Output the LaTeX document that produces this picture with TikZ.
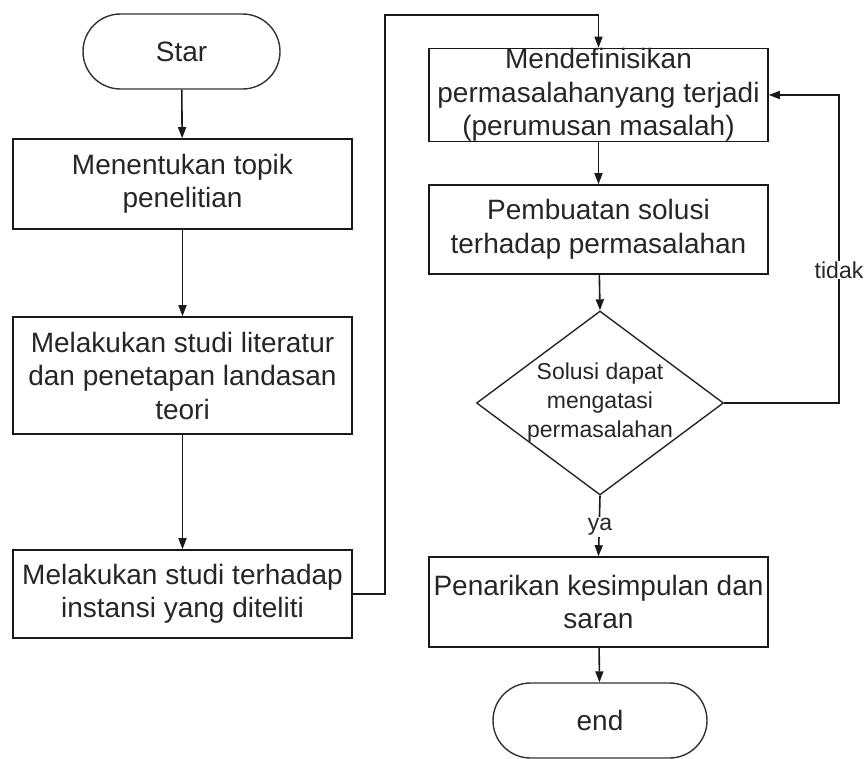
\documentclass[tikz,border=0pt]{standalone}
\usepackage{fontspec}
\setmainfont{Liberation Sans}
\usetikzlibrary{shapes.geometric,shapes.misc,arrows.meta}
\tikzset{
  box/.style={draw=black!90, line width=1.6pt, rectangle, minimum width=339pt, inner sep=0pt, align=center, font=\fontsize{28}{33.5}\selectfont, text=black!85},
  term/.style={draw=black!80, line width=1.4pt, rounded rectangle, inner sep=0pt, font=\fontsize{28}{33.5}\selectfont, text=black!85},
  dec/.style={draw=black!85, line width=1.4pt, diamond, inner sep=0pt, minimum width=247pt, minimum height=184pt},
  arr/.style={line width=1.6pt, black!90, -{Triangle[length=11pt,width=8pt]}},
  lbl/.style={fill=white, inner sep=1pt, font=\fontsize{23}{28}\selectfont, text=black!85}
}
\begin{document}
\begin{tikzpicture}[x=1pt,y=-1pt]
\useasboundingbox (0,0) rectangle (865,758);
\node[term, minimum width=197pt, minimum height=75pt] (star) at (181.5,51.5) {Star};
\node[box, minimum height=90pt] (b1) at (182.5,184) {Menentukan topik\\penelitian};
\node[box, minimum height=117pt] (b2) at (182.5,375.5) {Melakukan studi literatur\\dan penetapan landasan\\teori};
\node[box, minimum height=88pt] (b3) at (182.5,594) {Melakukan studi terhadap\\instansi yang diteliti};
\node[box, minimum height=88pt] (b4) at (598.5,95) {Mendefinisikan\\permasalahanyang terjadi\\(perumusan masalah)};
\node[box, minimum height=89pt] (b5) at (598.5,229.5) {Pembuatan solusi\\terhadap permasalahan};
\node[dec] (d) at (600,403) {};
\node[align=center, font=\fontsize{23}{29}\selectfont, text=black!85] (dt) at (d.center) {Solusi dapat\\mengatasi\\permasalahan};
\node[box, minimum height=90pt] (b6) at (598.5,602) {Penarikan kesimpulan dan\\saran};
\node[term, minimum width=214pt, minimum height=75pt] (end) at (600,720.5) {end};
\coordinate (c1) at (385,15);
\coordinate (c2) at (839,95);
\draw[arr] (star) -- (b1);
\draw[arr] (b1) -- (b2);
\draw[arr] (b2) -- (b3);
\draw[arr] (b3.east) -| (c1) -| (b4.north);
\draw[arr] (b4) -- (b5);
\draw[arr] (b5) -- (d.north);
\draw[arr] (d.east) -| (c2) -- (b4.east);
\draw[arr] (d.south) -- (b6.north);
\draw[arr] (b6) -- (end);
\node[lbl] (tidak) at (839,270) {tidak};
\node[lbl] (ya) at (600,527) {ya};
\end{tikzpicture}
\end{document}
